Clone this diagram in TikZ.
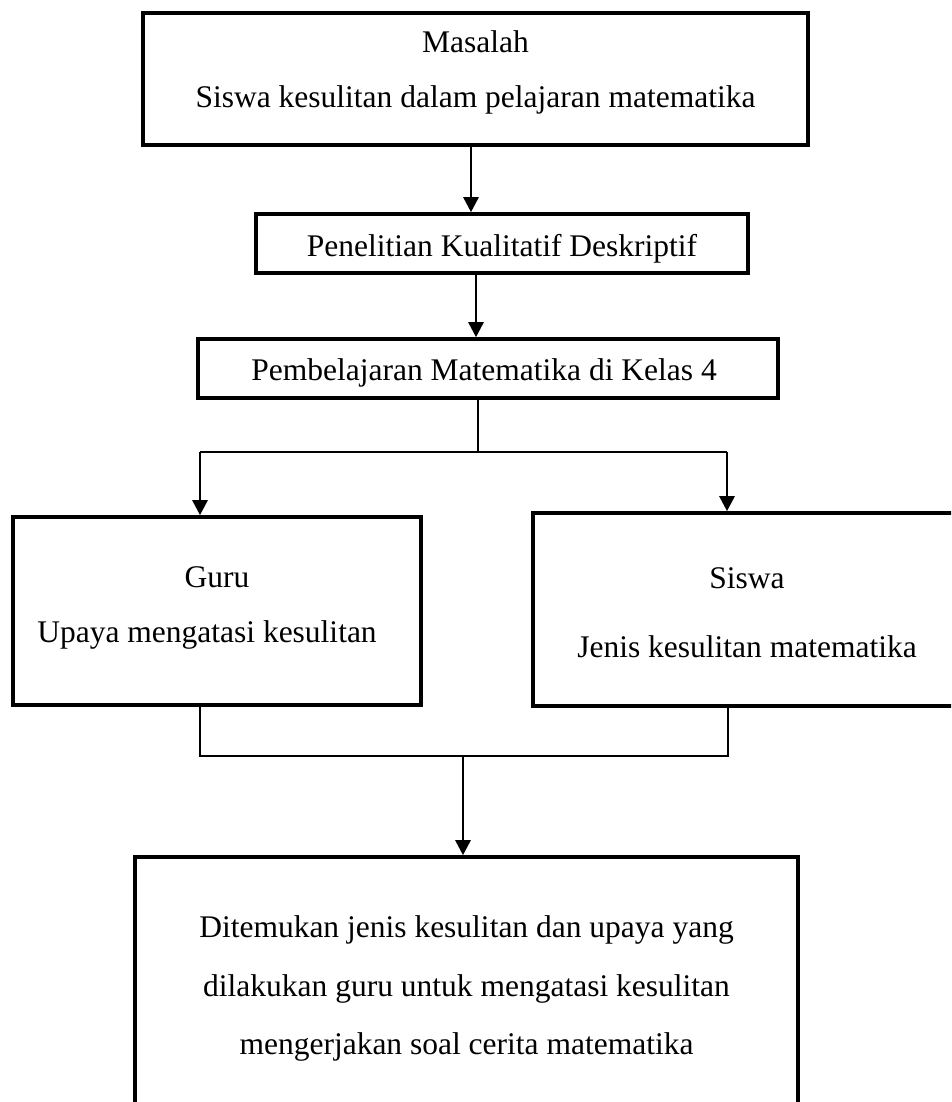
\documentclass[tikz,border=0pt]{standalone}
\usepackage{fontspec}
\setmainfont{Liberation Serif}
\usetikzlibrary{arrows.meta}
\begin{document}
\begin{tikzpicture}[x=1pt,y=-1pt,
  box/.style={draw,line width=3.6pt,inner sep=0pt},
  txt/.style={anchor=base,inner sep=0pt,font=\fontsize{31.5}{38}\selectfont},
  arr/.style={line width=2.7pt,-{Triangle[length=15pt,width=15pt]}},
  conn/.style={line width=2.7pt},
  thinconn/.style={line width=2.2pt}]
\useasboundingbox (0,0) rectangle (951,1102);
\clip (0,0) rectangle (951,1102);
% boxes
\node[box,minimum width=665pt,minimum height=132pt] (b1) at (475.5,79) {};
\node[box,minimum width=492pt,minimum height=59pt] (b2) at (502,243.5) {};
\node[box,minimum width=580pt,minimum height=59pt] (b3) at (488,368.5) {};
\node[box,minimum width=408pt,minimum height=188pt] (b4) at (217,611) {};
\node[box,minimum width=428pt,minimum height=193pt] (b5) at (747,609.5) {};
\node[box,minimum width=663pt,minimum height=286pt] (b6) at (466.5,1000) {};
% texts
\node[txt] (t1a) at (475.5,53) {Masalah};
\node[txt] (t1b) at (475.5,108) {Siswa kesulitan dalam pelajaran matematika};
\node[txt] (t2) at (502,256) {Penelitian Kualitatif Deskriptif};
\node[txt] (t3) at (484,380) {Pembelajaran Matematika di Kelas 4};
\node[txt] (t4a) at (217,587) {Guru};
\node[txt] (t4b) at (207,642) {Upaya mengatasi kesulitan};
\node[txt] (t5a) at (747,588) {Siswa};
\node[txt] (t5b) at (747,657) {Jenis kesulitan matematika};
\node[txt] (t6a) at (466.5,937) {Ditemukan jenis kesulitan dan upaya yang};
\node[txt] (t6b) at (466.5,996) {dilakukan guru untuk mengatasi kesulitan};
\node[txt] (t6c) at (466.5,1054) {mengerjakan soal cerita matematika};
% junction coordinates
\coordinate (j1) at (478,452);
\coordinate (jl) at (200,452);
\coordinate (jr) at (727,452);
\coordinate (k1) at (463,756);
\coordinate (kl) at (200,756);
\coordinate (kr) at (728,756);
% connectors
\draw[arr] (b1.south -| 471,0) -- (b2.north -| 471,0);
\draw[arr] (b2.south -| 476,0) -- (b3.north -| 476,0);
\draw[conn] (b3.south -| j1) -- (j1);
\draw[conn] (jl) -- (jr);
\draw[arr] (jl) -- (b4.north -| jl);
\draw[arr] (jr) -- (b5.north -| jr);
\draw[thinconn] (b4.south -| kl) -- (kl) -- (kr) -- (b5.south -| kr);
\draw[arr] (k1) -- (b6.north -| k1);
\end{tikzpicture}
\end{document}
